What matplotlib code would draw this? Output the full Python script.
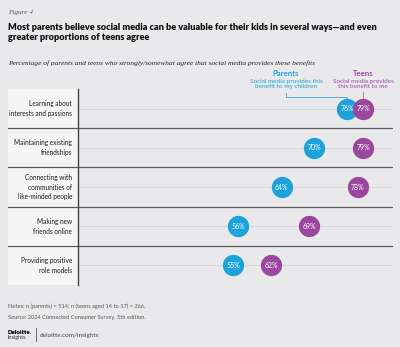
import matplotlib
matplotlib.use("Agg")
import matplotlib.pyplot as plt
from matplotlib.patches import Rectangle
from matplotlib.lines import Line2D
import matplotlib.transforms as mtrans

categories = ["Learning about\ninterests and passions",
              "Maintaining existing\nfriendships",
              "Connecting with\ncommunities of\nlike-minded people",
              "Making new\nfriends online",
              "Providing positive\nrole models"]
parents = [76, 70, 64, 56, 55]
teens = [79, 79, 78, 69, 62]

BLUE = "#1ea2dc"
PURPLE = "#9c479f"
BG = "#e9e9eb"
NARROW = ["Lato", "DejaVu Sans"]
SERIF = ["Liberation Serif", "DejaVu Serif"]

fig = plt.figure(figsize=(4.0, 3.47), dpi=100, facecolor=BG)

W, H = 400.0, 347.0
def fx(px): return px / W
def fy(py): return 1 - py / H

ax = fig.add_axes([fx(8), fy(285), fx(393) - fx(8), (285 - 89) / H])
ax.set_facecolor(BG)
ax.set_xlim(13.5, 84.5)
ax.set_ylim(len(categories) - 0.5, -0.5)
for s in ax.spines.values():
    s.set_visible(False)
ax.set_xticks([]); ax.set_yticks([])

panel_r = (77.5 - 8) / 385.0
ax.add_patch(Rectangle((0, 0), panel_r, 1, transform=ax.transAxes,
                       facecolor="#f5f5f6", edgecolor="none", zorder=0))
ax.plot([panel_r, panel_r], [0, 1], transform=ax.transAxes, color="#444444",
        lw=1.0, zorder=3, clip_on=False)

ys = list(range(len(categories)))
for y in ys:
    ax.axhline(y, xmin=panel_r, xmax=1, color="#d9d9dc", lw=0.8, zorder=1)
for y in ys[:-1]:
    ax.axhline(y + 0.5, xmin=0, xmax=1, color="#5a5a5a", lw=0.9, zorder=2)

lab_tr = mtrans.blended_transform_factory(ax.transAxes, ax.transData)
for y, c in zip(ys, categories):
    ax.text((72 - 8) / 385.0, y, c, transform=lab_tr, ha="right", va="center",
            fontsize=4.7, family=NARROW, color="#1a1a1a", linespacing=1.45)

ax.scatter(parents, ys, s=235, color=BLUE, zorder=4, linewidths=0)
ax.scatter(teens, ys, s=235, color=PURPLE, zorder=5, linewidths=0)
for y, p, t in zip(ys, parents, teens):
    ax.text(p, y, f"{p}%", ha="center", va="center", color="white",
            fontsize=5.0, family=NARROW, zorder=6)
    ax.text(t, y, f"{t}%", ha="center", va="center", color="white",
            fontsize=5.0, family=NARROW, zorder=6)

top_tr = mtrans.blended_transform_factory(ax.transData, fig.transFigure)
px_par = fx(286)
fig.text(px_par, fy(73), "Parents", ha="center", va="center", color=BLUE,
         fontsize=5.6, fontweight="bold", family=NARROW)
fig.text(px_par, fy(84), "Social media provides this\nbenefit to my children",
         ha="center", va="center", color=BLUE, fontsize=4.6, family=NARROW,
         linespacing=1.2)
ax.text(teens[0], fy(73), "Teens", transform=top_tr, ha="center", va="center",
        color=PURPLE, fontsize=5.6, fontweight="bold", family=NARROW)
ax.text(teens[0], fy(84), "Social media provides\nthis benefit to me",
        transform=top_tr, ha="center", va="center", color=PURPLE,
        fontsize=4.6, family=NARROW, linespacing=1.2)

x_par_data = ax.transData.inverted().transform(
    fig.transFigure.transform((px_par, 0)))[0]
ax.plot([x_par_data, x_par_data, parents[0], parents[0]],
        [fy(93), fy(97), fy(97), fy(99)], transform=top_tr,
        color="#55aee0", lw=0.7, clip_on=False, zorder=3)
ax.plot([teens[0], teens[0]], [fy(92), fy(98)], transform=top_tr,
        color="#b07cb3", lw=0.7, clip_on=False, zorder=3)

fig.text(fx(8), fy(12), "Figure 4", ha="left", va="center", fontsize=5.2,
         style="italic", family=SERIF, color="#555555")
fig.text(fx(8), fy(32.5),
         "Most parents believe social media can be valuable for their kids in several ways\u2014and even\ngreater proportions of teens agree",
         ha="left", va="center", fontsize=6.6, fontweight="heavy", family=NARROW,
         color="#111111", linespacing=1.25)
fig.text(fx(8), fy(63),
         "Percentage of parents and teens who strongly/somewhat agree that social media provides these benefits",
         ha="left", va="center", fontsize=5.3, style="italic", family=SERIF,
         color="#222222")

fig.text(fx(8), fy(306), "Notes: n (parents) = 514; n (teens aged 14 to 17) = 266.",
         ha="left", va="center", fontsize=4.1, family=NARROW, color="#555555")
fig.text(fx(8), fy(318), "Source: 2024 Connected Consumer Survey, 5th edition.",
         ha="left", va="center", fontsize=4.1, family=NARROW, color="#555555")
fig.text(fx(8), fy(332), "Deloitte.", ha="left", va="center", fontsize=4.4,
         fontweight="heavy", family=NARROW, color="#000000")
fig.text(fx(8), fy(338), "Insights", ha="left", va="center", fontsize=4.0,
         family=NARROW, color="#333333")
fig.add_artist(Line2D([fx(35.5), fx(35.5)], [fy(328), fy(341)],
                      transform=fig.transFigure, color="#555555", lw=0.6))
fig.text(fx(40), fy(335), "deloitte.com/insights", ha="left", va="center",
         fontsize=4.6, family=NARROW, color="#444444")

fig.savefig("out.png", dpi=100, facecolor=BG)
